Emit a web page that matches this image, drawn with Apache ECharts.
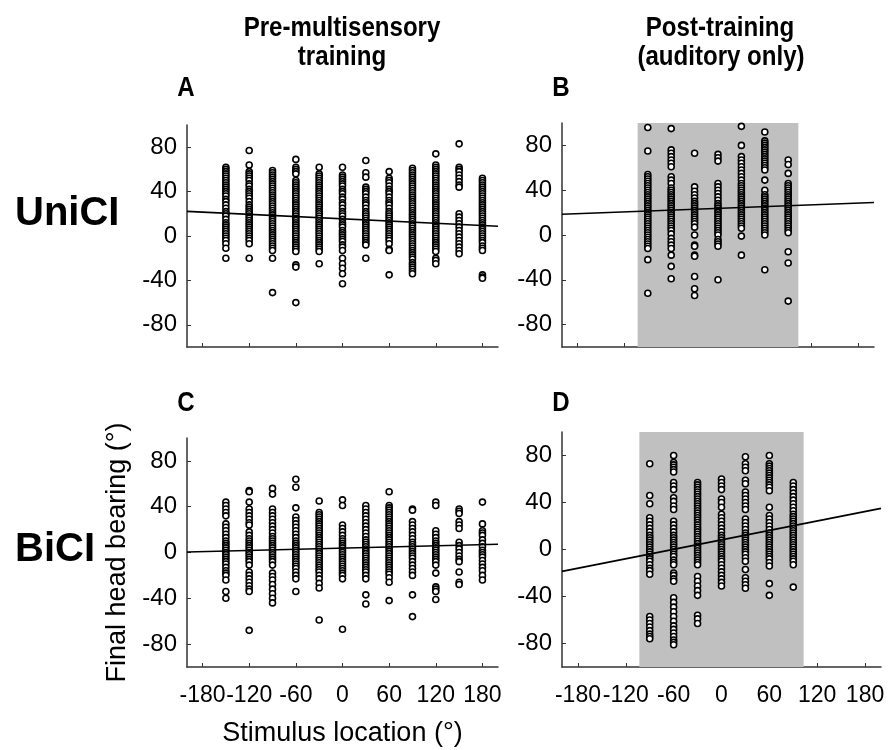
<!DOCTYPE html>
<html>
<head>
<meta charset="utf-8">
<script src="https://cdn.jsdelivr.net/npm/echarts@6/dist/echarts.min.js"></script>
<style>
  html, body { margin: 0; background: #fff; }
  #chart { width: 888px; height: 750px; }
</style>
</head>
<body>
<div id="chart"></div>
<script>
// stimulus locations (deg) of each column of responses
const preLocs = [-150, -120, -90, -60, -30, 0, 30, 60, 90, 120, 150, 180]
const postLocs = [-90, -60, -30, 0, 30, 60, 90]

const xTicks = [-180, -120, -60, 0, 60, 120, 180]
const yTicks = [-80, -40, 0, 40, 80]

// A: UniCI, pre-multisensory training (final head bearing per trial)
const uniPre = [
  [62, 60, 58, 56, 54, 52, 50, 48, 46, 44, 42, 40, 38, 36, 33, 31, 28, 25, 22, 20, 18, 15, 12, 10, 8, 6, 4, 2, 0, -2, -4, -7, -11, -20],
  [77, 64, 58, 56, 54, 52, 50, 47, 45, 42, 40, 38, 36, 34, 31, 28, 26, 24, 22, 20, 18, 16, 14, 12, 10, 8, 6, 4, 2, 0, -2, -4, -7, -20],
  [59, 57, 55, 53, 51, 49, 47, 45, 43, 41, 39, 37, 35, 33, 31, 29, 27, 25, 23, 21, 19, 17, 15, 13, 11, 9, 7, 5, 3, 1, -1, -3, -5, -7, -9, -11, -13, -20, -51],
  [69, 62, 60, 58, 56, 50, 48, 46, 44, 42, 40, 38, 36, 34, 32, 30, 28, 26, 24, 22, 20, 18, 16, 14, 12, 10, 8, 6, 4, 2, 0, -2, -4, -6, -8, -10, -12, -14, -26, -28, -60],
  [62, 56, 54, 52, 50, 48, 46, 44, 42, 40, 38, 36, 34, 32, 30, 28, 26, 24, 22, 20, 18, 16, 14, 12, 10, 8, 6, 4, 2, 0, -2, -4, -6, -8, -10, -12, -14, -25],
  [62, 55, 53, 51, 49, 47, 45, 42, 40, 38, 35, 33, 30, 28, 25, 22, 20, 18, 15, 12, 10, 8, 5, 3, 1, -1, -3, -5, -8, -10, -13, -20, -25, -29, -34, -43],
  [68, 57, 53, 44, 42, 40, 38, 35, 32, 30, 28, 25, 22, 20, 18, 16, 14, 12, 10, 8, 6, 4, 2, 0, -2, -4, -6, -8, -20],
  [58, 52, 50, 48, 45, 42, 40, 38, 35, 32, 30, 28, 25, 22, 20, 18, 16, 14, 12, 10, 8, 6, 4, 2, 0, -2, -4, -7, -12, -13, -35],
  [61, 59, 57, 55, 53, 51, 49, 47, 45, 43, 41, 39, 37, 35, 33, 31, 29, 27, 25, 23, 21, 19, 17, 15, 13, 11, 9, 7, 5, 3, 1, -1, -3, -5, -7, -9, -11, -13, -15, -17, -19, -21, -24, -26, -28, -30, -32, -34],
  [74, 64, 62, 60, 58, 56, 54, 52, 50, 48, 46, 44, 42, 40, 38, 36, 34, 32, 30, 28, 26, 24, 22, 20, 18, 16, 14, 12, 10, 8, 6, 4, 2, 0, -2, -4, -6, -8, -10, -12, -14, -20, -22, -25],
  [83, 62, 60, 58, 55, 52, 49, 46, 44, 20, 17, 14, 11, 8, 5, 2, -1, -4, -7, -10, -13, -16],
  [52, 50, 48, 46, 44, 42, 40, 38, 36, 34, 32, 30, 28, 26, 24, 22, 20, 18, 16, 14, 12, 10, 8, 6, 4, 2, 0, -2, -4, -6, -9, -11, -13, -35, -37, -38]
]

// B: UniCI, post-training (auditory only)
const uniPost = [
  [96, 75, 54, 52, 50, 48, 46, 44, 42, 40, 38, 36, 34, 32, 30, 28, 26, 24, 22, 20, 18, 16, 14, 12, 10, 8, 6, 4, 2, 0, -2, -4, -6, -8, -10, -12, -22, -52],
  [95, 76, 73, 70, 67, 64, 61, 52, 49, 46, 42, 40, 38, 36, 34, 32, 30, 28, 26, 24, 22, 20, 18, 16, 14, 12, 10, 8, 6, 4, 1, -3, -6, -9, -12, -18, -28, -39],
  [73, 43, 39, 36, 33, 30, 28, 26, 24, 22, 20, 18, 16, 14, 12, 10, 7, 0, -9, -10, -18, -19, -37, -48, -54],
  [72, 69, 66, 46, 43, 40, 37, 34, 31, 28, 26, 24, 22, 20, 18, 16, 14, 12, 10, 8, 6, 4, 2, 0, -4, -6, -8, -10, -40],
  [97, 80, 70, 67, 64, 61, 58, 55, 52, 49, 46, 44, 42, 40, 38, 36, 34, 32, 30, 28, 26, 24, 22, 20, 18, 16, 14, 12, 10, 8, 6, -1, -18],
  [92, 84, 82, 80, 78, 76, 74, 72, 70, 68, 66, 64, 62, 60, 58, 49, 40, 36, 34, 32, 30, 28, 26, 24, 22, 20, 18, 16, 14, 12, 10, 8, 6, 4, 2, 0, -31],
  [67, 63, 55, 46, 44, 42, 40, 38, 36, 34, 32, 30, 28, 26, 24, 22, 20, 18, 16, 14, 12, 10, 8, 6, 4, 2, -15, -25, -59]
]

// C: BiCI, pre-multisensory training
const biPre = [
  [44, 41, 38, 35, 32, 25, 22, 19, 16, 13, 10, 8, 6, 4, 2, 0, -2, -4, -6, -8, -10, -13, -16, -18, -20, -24, -34, -40],
  [54, 53, 44, 38, 35, 32, 29, 26, 24, 18, 15, 12, 10, 8, 6, 4, 2, 0, -2, -4, -6, -8, -11, -17, -20, -23, -26, -29, -32, -34, -68],
  [56, 51, 38, 35, 32, 29, 26, 23, 20, 17, 14, 12, 10, 8, 6, 4, 2, 0, -2, -4, -6, -8, -11, -18, -21, -24, -28, -32, -36, -40, -44],
  [64, 57, 39, 31, 28, 25, 22, 19, 16, 13, 10, 8, 6, 4, 2, 0, -2, -4, -6, -8, -10, -12, -14, -17, -20, -23, -34],
  [45, 35, 33, 31, 29, 27, 25, 23, 21, 19, 17, 15, 13, 11, 9, 7, 5, 3, 1, -1, -3, -5, -7, -9, -11, -13, -15, -17, -20, -23, -27, -31, -59],
  [46, 41, 24, 21, 18, 15, 12, 10, 8, 6, 4, 2, 0, -2, -4, -6, -8, -10, -12, -14, -16, -18, -20, -23, -67],
  [41, 38, 35, 32, 29, 26, 23, 20, 17, 14, 11, 9, 7, 5, 3, 1, -1, -3, -5, -7, -9, -11, -13, -15, -17, -20, -23, -37, -45],
  [53, 41, 39, 37, 35, 33, 31, 29, 27, 25, 23, 21, 19, 17, 15, 13, 11, 9, 7, 5, 3, 1, -1, -3, -5, -7, -9, -11, -13, -15, -17, -19, -22, -26, -42],
  [38, 37, 27, 24, 21, 18, 15, 12, 9, 7, 5, 3, 1, -1, -3, -5, -8, -11, -14, -17, -20, -37, -56],
  [44, 41, 19, 16, 13, 10, 8, 6, 4, 2, 0, -2, -4, -6, -8, -11, -18, -30, -32, -34, -41],
  [38, 36, 34, 27, 24, 21, 9, 6, 3, 0, -3, -6, -8, -17, -26, -28],
  [44, 25, 19, 17, 15, 11, 8, 5, 2, 0, -2, -4, -7, -10, -13, -16, -20, -24]
]

// D: BiCI, post-training (auditory only)
const biPost = [
  [73, 46, 39, 27, 24, 21, 18, 15, 12, 10, 8, 6, 4, 2, 0, -2, -4, -6, -8, -10, -13, -16, -18, -21, -57, -60, -63, -66, -69, -72, -74, -76],
  [80, 74, 72, 70, 68, 66, 57, 54, 51, 44, 41, 37, 34, 24, 21, 18, 15, 12, 10, 8, 6, 4, 2, 0, -2, -4, -6, -9, -11, -13, -20, -22, -25, -27, -41, -45, -49, -53, -57, -61, -65, -68, -71, -74, -77, -79, -81],
  [57, 55, 53, 51, 49, 47, 45, 43, 41, 39, 37, 35, 33, 31, 29, 27, 25, 23, 21, 19, 17, 15, 13, 11, 9, 7, 5, 3, 1, -1, -3, -5, -7, -9, -11, -13, -23, -27, -31, -35, -39, -56, -59, -63],
  [60, 57, 54, 51, 43, 40, 36, 30, 27, 24, 21, 18, 15, 12, 10, 8, 6, 4, 2, 0, -2, -4, -6, -8, -10, -13, -16, -19, -22, -25, -28, -31],
  [79, 73, 70, 67, 59, 56, 49, 46, 43, 40, 37, 34, 26, 23, 20, 17, 14, 12, 10, 8, 6, 4, 2, 0, -2, -4, -7, -10, -17, -24, -27, -30, -33],
  [80, 73, 71, 69, 67, 65, 63, 61, 59, 57, 55, 53, 50, 36, 29, 26, 23, 20, 17, 14, 12, 10, 8, 6, 4, 2, 0, -2, -4, -6, -8, -11, -14, -29, -39],
  [57, 54, 51, 48, 45, 42, 39, 36, 33, 30, 28, 26, 24, 22, 20, 18, 16, 14, 12, 10, 8, 6, 4, 2, 0, -2, -4, -6, -8, -10, -13, -32]
]

// regression lines, end points
const fitUniPre = [[-200, 22.2], [200, 8.8]]
const fitUniPost = [[-200, 18.5], [200, 29]]
const fitBiPre = [[-200, 0.4], [200, 7.2]]
const fitBiPost = [[-200, -18.6], [200, 35]]

// range of locations actually tested post-training (grey band)
const postRange = [-103, 103]

const font = "'Liberation Sans', Arial, sans-serif"

function toPoints(locs, cols) {
  const out = []
  cols.forEach((ys, i) => ys.forEach(y => out.push([locs[i], y])))
  return out
}

const grids = [
  { left: 187, top: 125, width: 311, height: 222 },
  { left: 562, top: 123, width: 312, height: 224 },
  { left: 187, top: 438, width: 311, height: 229 },
  { left: 562, top: 432, width: 319, height: 235 }
]

const axisLine = { show: true, onZero: false, lineStyle: { color: '#333', width: 1.5 } }

function xAxis(i, showLabels) {
  return {
    type: 'value', gridIndex: i, min: -200, max: 200,
    axisLine: axisLine,
    splitLine: { show: false },
    axisTick: { show: true, inside: true, length: 4, customValues: xTicks, lineStyle: { color: '#333' } },
    axisLabel: {
      show: showLabels, customValues: xTicks, margin: 17, hideOverlap: false,
      fontFamily: font, fontSize: 23, color: '#000'
    }
  }
}

function yAxis(i) {
  return {
    type: 'value', gridIndex: i, min: -100, max: 100,
    axisLine: axisLine,
    splitLine: { show: false },
    axisTick: { show: true, inside: true, length: 4, customValues: yTicks, lineStyle: { color: '#333' } },
    axisLabel: {
      customValues: yTicks, margin: 10,
      fontFamily: font, fontSize: 24, color: '#000'
    }
  }
}

const xAxes = [xAxis(0, false), xAxis(1, false), xAxis(2, true), xAxis(3, true)]
xAxes[2].name = 'Stimulus location (°)'
xAxes[2].nameLocation = 'middle'
xAxes[2].nameGap = 53
xAxes[2].nameTextStyle = { fontFamily: font, fontSize: 27, color: '#000' }

const yAxes = [yAxis(0), yAxis(1), yAxis(2), yAxis(3)]
yAxes[2].name = 'Final head bearing (°)'
yAxes[2].nameLocation = 'middle'
yAxes[2].nameRotate = 90
yAxes[2].nameGap = 56
yAxes[2].nameTextStyle = { fontFamily: font, fontSize: 27, color: '#000' }

function scatter(i, locs, cols) {
  return {
    type: 'scatter', xAxisIndex: i, yAxisIndex: i, z: 3,
    symbol: 'circle', symbolSize: 6,
    itemStyle: { color: '#fff', borderColor: '#000', borderWidth: 1.6, opacity: 1 },
    data: toPoints(locs, cols)
  }
}

function fit(i, pts) {
  return {
    type: 'line', xAxisIndex: i, yAxisIndex: i, z: 4,
    showSymbol: false, symbol: 'none',
    lineStyle: { color: '#000', width: 1.6 },
    data: pts
  }
}

function band(i) {
  return {
    type: 'line', xAxisIndex: i, yAxisIndex: i, z: 1,
    data: [],
    markArea: {
      silent: true,
      itemStyle: { color: '#c0c0c0', opacity: 1 },
      data: [[{ xAxis: postRange[0], yAxis: -100 }, { xAxis: postRange[1], yAxis: 100 }]]
    }
  }
}

// bold headings, squeezed horizontally to look like the narrow face of the original
function label(text, x, y) {
  return {
    type: 'text', x: x, y: y, scaleX: 0.86,
    style: {
      text: text, fill: '#000',
      font: 'bold 28px ' + font,
      textAlign: 'center', textVerticalAlign: 'middle',
      align: 'center', verticalAlign: 'middle'
    }
  }
}

function rowLabel(text, y) {
  return {
    type: 'text', x: 15, y: y,
    style: {
      text: text, fill: '#000', font: 'bold 40px ' + font,
      textAlign: 'left', textVerticalAlign: 'middle', align: 'left', verticalAlign: 'middle'
    }
  }
}

const chart = echarts.init(document.getElementById('chart'), null, { renderer: 'canvas' })
chart.setOption({
  animation: false,
  backgroundColor: '#fff',
  grid: grids,
  xAxis: xAxes,
  yAxis: yAxes,
  graphic: [
    label('Pre-multisensory', 342, 28),
    label('training', 342, 57),
    label('Post-training', 720, 28),
    label('(auditory only)', 721, 57),
    label('A', 186, 88),
    label('B', 561, 88),
    label('C', 186, 403),
    label('D', 561, 403),
    rowLabel('UniCI', 214),
    rowLabel('BiCI', 550)
  ],
  series: [
    band(1),
    band(3),
    scatter(0, preLocs, uniPre),
    scatter(1, postLocs, uniPost),
    scatter(2, preLocs, biPre),
    scatter(3, postLocs, biPost),
    fit(0, fitUniPre),
    fit(1, fitUniPost),
    fit(2, fitBiPre),
    fit(3, fitBiPost)
  ]
})
</script>
</body>
</html>
